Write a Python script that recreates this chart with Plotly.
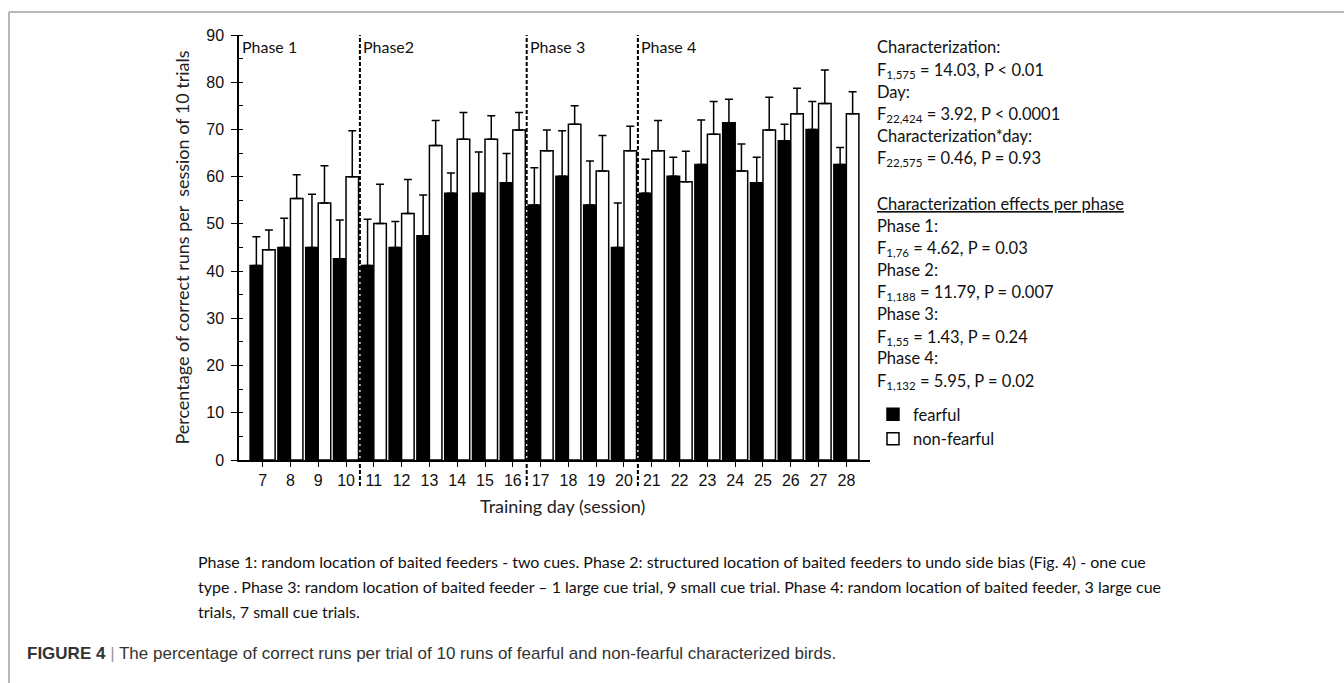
import plotly.graph_objects as go

# ---------------- data ----------------
days = [7, 8, 9, 10, 11, 12, 13, 14, 15, 16, 17, 18, 19, 20, 21, 22, 23, 24, 25, 26, 27, 28]
day_labels = [str(d) for d in days]

fearful_mean = [41.2, 45.0, 45.0, 42.6, 41.2, 45.0, 47.5, 56.5, 56.5, 58.7, 54.0,
                60.1, 54.0, 45.0, 56.5, 60.1, 62.6, 71.4, 58.7, 67.6, 70.0, 62.6]
fearful_err = [6.1, 6.2, 11.3, 8.2, 9.8, 5.5, 8.6, 4.3, 8.7, 6.2, 7.9,
               9.6, 9.3, 9.4, 7.2, 4.0, 9.4, 5.0, 5.4, 3.5, 5.9, 3.6]

nonfearful_mean = [44.5, 55.4, 54.4, 60.0, 50.1, 52.2, 66.6, 67.9, 67.9, 69.9, 65.5,
                   71.1, 61.2, 65.5, 65.5, 58.9, 69.0, 61.2, 69.9, 73.3, 75.5, 73.3]
nonfearful_err = [4.2, 5.0, 7.9, 9.7, 8.3, 7.2, 5.3, 5.7, 5.0, 3.7, 4.4,
                  3.9, 7.5, 5.2, 6.4, 6.5, 6.9, 5.7, 6.9, 5.4, 7.1, 4.7]

phase_bounds = [10.5, 16.5, 20.5]
phase_names = ["Phase 1", "Phase2", "Phase 3", "Phase 4"]
phase_starts = [None, 10.5, 16.5, 20.5]

stats_lines = [
    "Characterization:",
    "F<sub>1,575</sub> = 14.03, P &lt; 0.01",
    "Day:",
    "F<sub>22,424</sub> = 3.92, P &lt; 0.0001",
    "Characterization*day:",
    "F<sub>22,575</sub> = 0.46, P = 0.93",
    "<u>Characterization effects per phase</u>",
    "Phase 1:",
    "F<sub>1,76</sub> = 4.62, P = 0.03",
    "Phase 2:",
    "F<sub>1,188</sub> = 11.79, P = 0.007",
    "Phase 3:",
    "F<sub>1,55</sub> = 1.43, P = 0.24",
    "Phase 4:",
    "F<sub>1,132</sub> = 5.95, P = 0.02",
]
stats_y_px = [47, 70, 92, 114, 136, 158, 204, 226, 248, 270, 292, 314, 337, 358, 381]

caption_lines = [
    "Phase 1: random location of baited feeders - two cues. Phase 2: structured location of baited feeders to undo side bias (Fig. 4) - one cue",
    "type . Phase 3: random location of baited feeder \u2013 1 large cue trial, 9 small cue trial. Phase 4: random location of baited feeder, 3 large cue",
    "trials, 7 small cue trials.",
]
caption_y_px = [561, 586, 611]
figure_caption = ("<b>FIGURE 4</b> <span style='color:#9a9a9a'>|</span> The percentage of correct runs per trial "
                  "of 10 runs of fearful and non-fearful characterized birds.")

# ---------------- layout geometry ----------------
W, H = 1344, 683
L, R, T, B = 239, 870, 35, 460


def px(x):
    return (x - L) / (R - L)


def py(y):
    return (B - y) / (B - T)


CAL = "Lato, 'Open Sans', sans-serif"
ARI = "'Liberation Sans', Arial, sans-serif"

fig = go.Figure()
fig.add_trace(go.Bar(
    x=days, y=fearful_mean, name="fearful", legendgroup="f",
    marker=dict(color="black", line=dict(color="black", width=1.5)),
    error_y=dict(type="data", symmetric=False, array=fearful_err,
                 arrayminus=[0] * len(days), color="black", thickness=1.5, width=4),
))
fig.add_trace(go.Bar(
    x=days, y=nonfearful_mean, name="non-fearful", legendgroup="nf",
    marker=dict(color="white", line=dict(color="black", width=1.5)),
    error_y=dict(type="data", symmetric=False, array=nonfearful_err,
                 arrayminus=[0] * len(days), color="black", thickness=1.5, width=4),
))

shapes = []
for xb in phase_bounds:
    shapes.append(dict(type="line", xref="x", yref="paper", x0=xb, x1=xb,
                       y0=py(486), y1=1, line=dict(color="black", width=2, dash="4px,2px")))
# figure frame
shapes.append(dict(type="line", xref="paper", yref="paper", x0=px(9), x1=px(1344),
                   y0=py(12), y1=py(12), line=dict(color="#a0a0a0", width=1.5)))
shapes.append(dict(type="line", xref="paper", yref="paper", x0=px(9), x1=px(9),
                   y0=py(12), y1=py(683), line=dict(color="#a0a0a0", width=1.5)))

annotations = []
for name, start in zip(phase_names, phase_starts):
    annotations.append(dict(
        x=start if start is not None else 6.15, xref="x", y=py(47), yref="paper",
        text=name, showarrow=False, xanchor="left", yanchor="middle", xshift=1,
        font=dict(family=CAL, size=16, color="#111")))
for txt, yy in zip(stats_lines, stats_y_px):
    annotations.append(dict(
        x=px(875), xref="paper", y=py(yy), yref="paper", text=txt, showarrow=False,
        xanchor="left", yanchor="middle", font=dict(family=CAL, size=16.5, color="#111")))
for txt, yy in zip(caption_lines, caption_y_px):
    annotations.append(dict(
        x=px(196), xref="paper", y=py(yy), yref="paper", text=txt, showarrow=False,
        xanchor="left", yanchor="middle", font=dict(family=CAL, size=16, color="#111")))
annotations.append(dict(
    x=px(25), xref="paper", y=py(653), yref="paper", text=figure_caption, showarrow=False,
    xanchor="left", yanchor="middle", font=dict(family=ARI, size=17, color="#333")))
annotations.append(dict(
    x=px(562), xref="paper", y=py(506), yref="paper", text="Training day (session)",
    showarrow=False, xanchor="center", yanchor="middle",
    font=dict(family=CAL, size=18, color="#222")))

fig.update_layout(
    width=W, height=H,
    margin=dict(l=L, r=W - R, t=T, b=H - B, pad=0),
    paper_bgcolor="white", plot_bgcolor="white",
    barmode="group", bargap=0.1, bargroupgap=0,
    shapes=shapes, annotations=annotations,
    showlegend=True,
    legend=dict(x=px(873), y=py(397), xanchor="left", yanchor="top",
                font=dict(family=CAL, size=16.5, color="#111"),
                bgcolor="rgba(0,0,0,0)", tracegroupgap=0, itemclick=False),
    xaxis=dict(range=[6.15, 28.85], tickmode="array", tickvals=days, ticktext=day_labels,
               ticks="outside", ticklen=5, tickwidth=1.2, tickcolor="black",
               showline=True, linecolor="black", linewidth=1.5, showgrid=False,
               zeroline=False, tickfont=dict(family=ARI, size=16, color="#111")),
    xaxis2=dict(range=[6.15, 28.85], overlaying="x", side="top", matches="x",
                tickmode="array", tickvals=days, ticks="outside", ticklen=3,
                tickwidth=1.2, tickcolor="black", showticklabels=False,
                showline=True, linecolor="black", linewidth=1.5, showgrid=False,
                zeroline=False),
    yaxis=dict(range=[0, 90], dtick=10, ticks="outside", ticklen=6, tickwidth=1.2,
               tickcolor="black", showline=True, linecolor="black", linewidth=1.5,
               showgrid=False, zeroline=False, ticklabelstandoff=4,
               minor=dict(dtick=5, ticks="inside", ticklen=4, tickcolor="black", showgrid=False),
               tickfont=dict(family=ARI, size=16, color="#111"),
               title=dict(text="Percentage of correct runs per \u00a0session of 10 trials",
                          font=dict(family=CAL, size=18, color="#222"), standoff=12)),
)

fig.write_html("out.html", config={"displayModeBar": False},
               post_script="document.body.style.margin='0px';")
